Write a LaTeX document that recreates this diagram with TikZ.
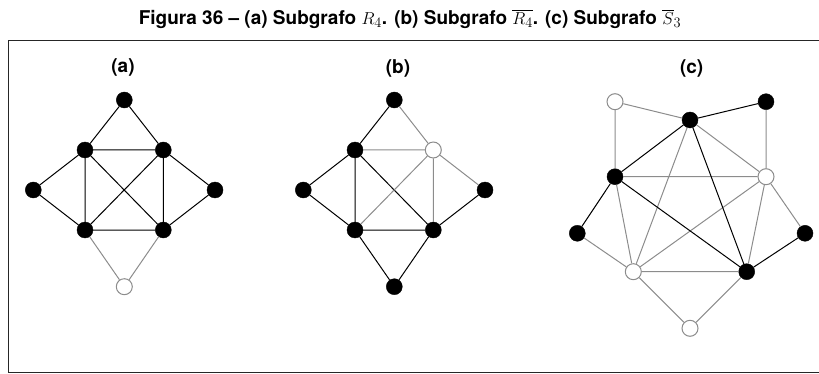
\documentclass[tikz,border=0pt]{standalone}
\usepackage[no-math]{fontspec}
\setmainfont{TeX Gyre Heros}
\usepackage{amsmath}
\usetikzlibrary{positioning}

\begin{document}
\begin{tikzpicture}[
			x=1pt, y=-1pt,
			vblk/.style = {circle, draw=black, fill=black, minimum size=16pt, inner sep=0pt},
			vwht/.style = {circle, draw=black!45, fill=white, line width=1pt, minimum size=16pt, inner sep=0pt},
			eblk/.style = {draw=black, line width=1pt},
			egry/.style = {draw=black!45, line width=1pt},
			lbl/.style = {font=\fontsize{19}{22}\selectfont\bfseries},
			frame/.style = {draw=black!85, line width=1pt},
		]
			\useasboundingbox (0,0) rectangle (819,374);
			% titulo e moldura
			\node[lbl] (title) at (410,19) {Figura 36 -- (a) Subgrafo $R_4$. (b) Subgrafo $\overline{R_4}$. (c) Subgrafo $\overline{S}_3$};
			\draw[frame] (819,40.5) -- (8.5,40.5) -- (8.5,372.7) -- (819,372.7);

			% (a) subgrafo R4
			\node[lbl] (la) at (123,67) {(a)};
			\node[vblk] (a-t) at (124.3,100) {};
			\node[vblk] (a-ul) at (85,150) {};
			\node[vblk] (a-ur) at (163.3,150) {};
			\node[vblk] (a-l) at (33.3,190) {};
			\node[vblk] (a-r) at (215,190) {};
			\node[vblk] (a-ll) at (85,230) {};
			\node[vblk] (a-lr) at (163.3,230) {};
			\node[vwht] (a-b) at (124.3,286.7) {};
			\draw[eblk] (a-t) -- (a-ul) (a-t) -- (a-ur) (a-ul) -- (a-ur) (a-ul) -- (a-ll)
				(a-ur) -- (a-lr) (a-ll) -- (a-lr) (a-ul) -- (a-lr) (a-ur) -- (a-ll)
				(a-l) -- (a-ul) (a-l) -- (a-ll) (a-r) -- (a-ur) (a-r) -- (a-lr);
			\draw[egry] (a-ll) -- (a-b) (a-lr) -- (a-b);

			% (b) complemento de R4
			\node[lbl] (lb) at (398,68) {(b)};
			\node[vblk] (b-t) at (394.3,100) {};
			\node[vblk] (b-ul) at (355,150) {};
			\node[vwht] (b-ur) at (433.3,150) {};
			\node[vblk] (b-l) at (303.3,190) {};
			\node[vblk] (b-r) at (485,190) {};
			\node[vblk] (b-ll) at (355,230) {};
			\node[vblk] (b-lr) at (433.3,230) {};
			\node[vblk] (b-b) at (394.3,286.7) {};
			\draw[eblk] (b-t) -- (b-ul) (b-ul) -- (b-ll) (b-ul) -- (b-lr) (b-l) -- (b-ul)
				(b-l) -- (b-ll) (b-r) -- (b-lr) (b-ll) -- (b-lr) (b-ll) -- (b-b) (b-lr) -- (b-b);
			\draw[egry] (b-t) -- (b-ur) (b-ul) -- (b-ur) (b-ur) -- (b-ll) (b-ur) -- (b-lr) (b-ur) -- (b-r);

			% (c) complemento de S3
			\node[lbl] (lc) at (691.7,68) {(c)};
			\node[vwht] (c-tl) at (615,101.7) {};
			\node[vblk] (c-t) at (690,120) {};
			\node[vblk] (c-tr) at (766,101.7) {};
			\node[vblk] (c-ml) at (615,176.7) {};
			\node[vwht] (c-mr) at (766,176.7) {};
			\node[vblk] (c-l) at (577.3,233.3) {};
			\node[vblk] (c-r) at (805,233.3) {};
			\node[vwht] (c-bl) at (633.3,271.7) {};
			\node[vblk] (c-br) at (746.7,271.7) {};
			\node[vwht] (c-b) at (690,328.3) {};
			\draw[egry] (c-tl) -- (c-t) (c-tl) -- (c-ml) (c-tr) -- (c-mr) (c-t) -- (c-mr)
				(c-t) -- (c-bl) (c-ml) -- (c-mr) (c-ml) -- (c-bl) (c-mr) -- (c-bl)
				(c-mr) -- (c-br) (c-mr) -- (c-r) (c-l) -- (c-bl) (c-bl) -- (c-br)
				(c-bl) -- (c-b) (c-br) -- (c-b);
			\draw[eblk] (c-t) -- (c-tr) (c-t) -- (c-ml) (c-t) -- (c-br) (c-ml) -- (c-br)
				(c-ml) -- (c-l) (c-r) -- (c-br);
		\end{tikzpicture}
\end{document}
